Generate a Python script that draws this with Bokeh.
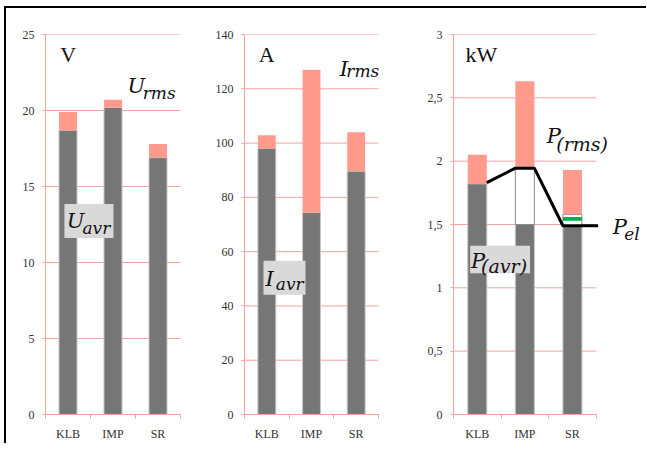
from bokeh.plotting import figure
from bokeh.layouts import row, column
from bokeh.models import Range1d, FixedTicker, Label, BoxAnnotation, ColumnDataSource, Div
from bokeh.embed import file_html
from bokeh.resources import INLINE

# ---------------- data ----------------
categories = ["KLB", "IMP", "SR"]
u_avr = [18.7, 20.2, 16.9]
u_rms = [19.9, 20.7, 17.8]
i_avr = [98.1, 74.4, 89.6]
i_rms = [102.9, 127.0, 104.0]
p_avr = [1.82, 1.50, 1.49]
p_rms = [2.05, 2.63, 1.93]
p_upper = [1.82, 1.945, 1.58]     # top of the white (open) segment
p_el = [1.83, 1.945, 1.49]        # electrical power line
green_cat = ["SR"]
green_lo = [1.53]
green_hi = [1.56]

y1_ticks = [0, 5, 10, 15, 20, 25]
y1_labels = ["0", "5", "10", "15", "20", "25"]
y2_ticks = [0, 20, 40, 60, 80, 100, 120, 140]
y2_labels = ["0", "20", "40", "60", "80", "100", "120", "140"]
y3_ticks = [0, 0.5, 1, 1.5, 2, 2.5, 3]
y3_labels = ["0", "0,5", "1", "1,5", "2", "2,5", "3"]

# ---------------- style ----------------
PINK_GRID = "#f2a3a3"
DARK = "#767676"
PINK = "#ff9a8c"
BOX = "#d9d9d9"
SERIF = "Liberation Serif"
MATH = "DejaVu Serif"
BAR_W = 0.4
TOP = 26
FRAME_H = 381
H = TOP + FRAME_H + 28

N = len(categories)
xpos = [i + 0.5 for i in range(N)]


def make_fig(width, bl, cat_px, ymax, yt, yl):
    frame_w = width - bl
    p = figure(width=width, height=H, x_range=Range1d(0, frame_w / cat_px),
               y_range=Range1d(0, ymax), output_backend="svg",
               toolbar_location=None, min_border_left=bl, min_border_right=0,
               min_border_top=TOP, min_border_bottom=H - TOP - FRAME_H)
    p.outline_line_color = None
    p.background_fill_color = None
    p.border_fill_color = None
    p.xgrid.visible = False
    p.ygrid.visible = False
    # horizontal grid lines spanning only the category area
    p.segment(x0=0, x1=N, y0=yt, y1=yt, line_color=PINK_GRID, line_width=1)

    ya = p.yaxis[0]
    ya.ticker = FixedTicker(ticks=yt)
    ya.major_label_overrides = {t: l for t, l in zip(yt, yl)}
    ya.axis_line_color = PINK_GRID
    ya.major_tick_line_color = PINK_GRID
    ya.major_tick_in = 0
    ya.major_tick_out = 3
    ya.minor_tick_line_color = None
    ya.major_label_standoff = 8
    ya.major_label_text_font = SERIF
    ya.major_label_text_font_size = "12px"
    ya.major_label_text_color = "#333333"

    xa = p.xaxis[0]
    xa.bounds = (0, N)
    xa.ticker = FixedTicker(ticks=xpos, minor_ticks=list(range(N + 1)))
    xa.major_label_overrides = {x: c for x, c in zip(xpos, categories)}
    xa.axis_line_color = PINK_GRID
    xa.major_tick_line_color = None
    xa.minor_tick_line_color = PINK_GRID
    xa.minor_tick_in = 0
    xa.minor_tick_out = 4
    xa.major_label_standoff = 6
    xa.major_label_text_font = SERIF
    xa.major_label_text_font_size = "12px"
    xa.major_label_text_color = "#333333"
    return p


def add_text(p, x, y, text, size, italic=False, font=SERIF, up=0):
    p.add_layout(Label(x=x, y=y, y_offset=up, text=text, text_font=font,
                       text_font_size=size, text_baseline="alphabetic",
                       text_align="left", text_color="#111111",
                       text_font_style="italic" if italic else "normal"))


def add_box(p, l, r, b, t):
    p.add_layout(BoxAnnotation(left=l, right=r, bottom=b, top=t,
                               fill_color=BOX, fill_alpha=1.0, line_color=None))


UP_N = 9   # upward pixel correction, plain unit labels
UP_M = 6   # upward pixel correction, math labels

# ---------------- panel 1: voltage ----------------
p1 = make_fig(194, 39, 45.0, 25, y1_ticks, y1_labels)
s1 = ColumnDataSource(dict(x=xpos, avr=u_avr, rms=u_rms))
p1.vbar(x="x", width=BAR_W, bottom=0, top="avr", source=s1, fill_color=DARK,
        line_color="#c4c4c4", line_width=1)
p1.vbar(x="x", width=BAR_W, bottom="avr", top="rms", source=s1, fill_color=PINK,
        line_color=None)
add_text(p1, 0.33, 23.1, "V", "22px", up=UP_N)
add_text(p1, 1.82, 21.2, "U", "21px", True, MATH, UP_M)
add_text(p1, 2.16, 20.75, "rms", "17px", True, MATH, UP_M)
add_box(p1, 0.42, 1.51, 11.61, 13.85)
add_text(p1, 0.47, 12.34, "U", "21px", True, MATH, UP_M)
add_text(p1, 0.82, 11.9, "avr", "17px", True, MATH, UP_M)

# ---------------- panel 2: current ----------------
p2 = make_fig(210, 44, 44.67, 140, y2_ticks, y2_labels)
s2 = ColumnDataSource(dict(x=xpos, avr=i_avr, rms=i_rms))
p2.vbar(x="x", width=BAR_W, bottom=0, top="avr", source=s2, fill_color=DARK,
        line_color="#c4c4c4", line_width=1)
p2.vbar(x="x", width=BAR_W, bottom="avr", top="rms", source=s2, fill_color=PINK,
        line_color=None)
add_text(p2, 0.32, 129.2, "A", "22px", up=UP_N)
add_text(p2, 2.13, 124.9, "I", "21px", True, MATH, UP_M)
add_text(p2, 2.28, 124.2, "rms", "17px", True, MATH, UP_M)
add_box(p2, 0.425, 1.365, 44.1, 56.6)
add_text(p2, 0.47, 47.8, "I", "21px", True, MATH, UP_M)
add_text(p2, 0.70, 45.9, "avr", "17px", True, MATH, UP_M)

# ---------------- panel 3: power ----------------
p3 = make_fig(236, 43, 47.57, 3, y3_ticks, y3_labels)
pink_lo = [max(a, w) for a, w in zip(p_avr, p_upper)]
s3 = ColumnDataSource(dict(x=xpos, avr=p_avr, up=p_upper, lo=pink_lo, rms=p_rms))
p3.vbar(x="x", width=BAR_W, bottom=0, top="avr", source=s3, fill_color=DARK,
        line_color="#c4c4c4", line_width=1)
p3.vbar(x="x", width=BAR_W, bottom="avr", top="up", source=s3, fill_color="white",
        line_color="#8c8c8c", line_width=1)
p3.vbar(x="x", width=BAR_W, bottom="lo", top="rms", source=s3, fill_color=PINK,
        line_color=None)
gx = [xpos[categories.index(c)] for c in green_cat]
p3.vbar(x=gx, width=BAR_W, bottom=green_lo, top=green_hi, fill_color="#00b050",
        line_color=None)
# P_el line: flat across the IMP and SR bars, starting at KLB's right edge
lx = [xpos[0] + BAR_W / 2, xpos[1] - BAR_W / 2, xpos[1] + BAR_W / 2,
      xpos[2] - BAR_W / 2, N + 0.04]
ly = [p_el[0], p_el[1], p_el[1], p_el[2], p_el[2]]
p3.line(lx, ly, line_color="black", line_width=3)

add_text(p3, 0.25, 2.77, "kW", "22px", up=UP_N)
add_text(p3, 1.96, 2.15, "P", "21px", True, MATH, UP_M)
add_text(p3, 2.16, 2.09, "(rms)", "19px", True, MATH, UP_M)
add_text(p3, 3.35, 1.433, "P", "21px", True, MATH, UP_M)
add_text(p3, 3.59, 1.378, "el", "17px", True, MATH, UP_M)
add_box(p3, 0.35, 1.61, 1.116, 1.333)
add_text(p3, 0.37, 1.168, "P", "21px", True, MATH, UP_M)
add_text(p3, 0.58, 1.126, "(avr)", "19px", True, MATH, UP_M)

# ---------------- outer frame (top and left rules) ----------------
W_INNER = 2 + 194 + 210 + 236
top_space = Div(text="", width=10, height=6, margin=0)
left_space = Div(text="", width=4, height=2 + H, margin=0)
top_line = Div(text="", width=W_INNER, height=2, margin=0,
               styles={"background-color": "black"})
left_line = Div(text="", width=2, height=H, margin=0,
                styles={"background-color": "black"})
inner = column(top_line, row(left_line, p1, p2, p3, spacing=0), spacing=0)
layout = column(top_space, row(left_space, inner, spacing=0), spacing=0)

open("out.html", "w").write(file_html(layout, INLINE))
